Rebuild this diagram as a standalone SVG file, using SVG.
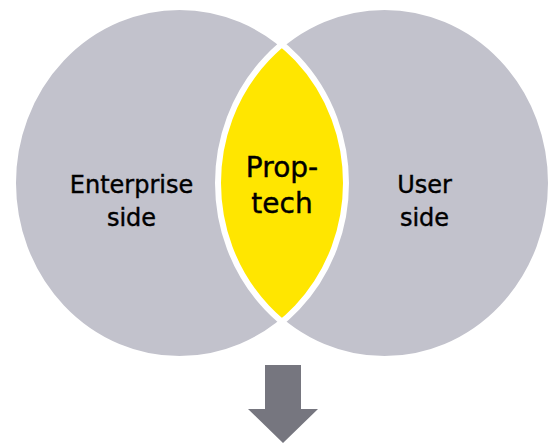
<svg xmlns="http://www.w3.org/2000/svg" width="549" height="443" viewBox="0 0 549 443">
  <defs>
    <style>
      .circle { fill: #c2c2cc; }
      .outline { fill: none; stroke: #ffffff; stroke-width: 6; }
      .lens { fill: #ffe600; }
      .label { font-family: "DejaVu Sans", "Liberation Sans", sans-serif; font-size: 24px; fill: #000000; stroke: #000000; stroke-width: 0.4; text-anchor: middle; }
      .label-big { font-size: 28px; }
      .arrow { fill: #76767f; }
    </style>
    <clipPath id="clipLeft">
      <ellipse cx="179.5" cy="183" rx="166.5" ry="176"/>
    </clipPath>
  </defs>
  <rect width="549" height="443" fill="#ffffff"/>

  <g id="enterprise-side">
    <ellipse class="circle" cx="179.5" cy="183" rx="166.5" ry="176"/>
  </g>
  <g id="user-side">
    <ellipse class="circle" cx="384.5" cy="183" rx="166.5" ry="176"/>
  </g>
  <g id="proptech">
    <ellipse class="lens" cx="384.5" cy="183" rx="166.5" ry="176" clip-path="url(#clipLeft)"/>
  </g>
  <g id="outlines">
    <ellipse class="outline" cx="179.5" cy="183" rx="166.5" ry="176"/>
    <ellipse class="outline" cx="384.5" cy="183" rx="166.5" ry="176"/>
  </g>

  <g id="labels">
    <text class="label" x="131.5" y="193">Enterprise</text>
    <text class="label" x="131.5" y="226">side</text>
    <text class="label label-big" x="282" y="177">Prop-</text>
    <text class="label label-big" x="282" y="213">tech</text>
    <text class="label" x="424.5" y="193">User</text>
    <text class="label" x="424.5" y="226">side</text>
  </g>

  <g id="connectors">
    <polygon class="arrow" points="265,365 301,365 301,409 318,409 283,443 248,409 265,409"/>
  </g>
</svg>
